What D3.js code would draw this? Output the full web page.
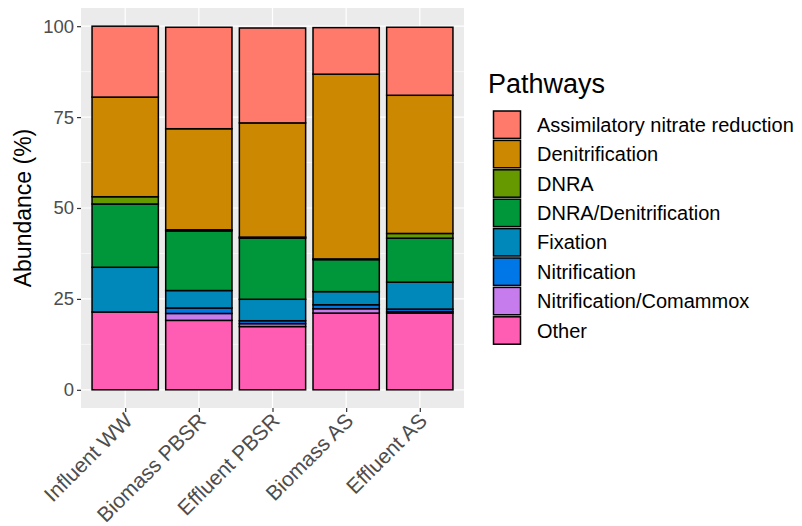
<!DOCTYPE html>
<html>
<head>
<meta charset="utf-8">
<script src="https://cdn.jsdelivr.net/npm/d3@7/dist/d3.min.js"></script>
<style>
  html, body { margin: 0; padding: 0; background: #fff; }
  svg text { font-family: "Liberation Sans", Arial, sans-serif; }
</style>
</head>
<body>
<svg id="chart" width="802" height="526"></svg>
<script>
const samples = ["Influent WW", "Biomass PBSR", "Effluent PBSR", "Biomass AS", "Effluent AS"];
const pathways = ["Assimilatory nitrate reduction", "Denitrification", "DNRA", "DNRA/Denitrification",
  "Fixation", "Nitrification", "Nitrification/Comammox", "Other"];
const colors = ["#FF7A6B", "#CC8800", "#669900", "#00963A", "#0088BB", "#0077E6", "#C77CEE", "#FF5CB4"];
// values per pathway, in sample order
const assimilatory = [19.5, 27.9, 26.1, 12.8, 18.7];
const denitrification = [27.4, 27.8, 31.4, 50.8, 38.0];
const dnra = [2.0, 0.3, 0.3, 0.2, 1.3];
const dnraDenit = [17.4, 16.4, 16.8, 8.8, 12.1];
const fixation = [12.3, 4.8, 5.9, 3.6, 7.4];
const nitrification = [0.0, 1.5, 0.8, 1.1, 0.7];
const comammox = [0.0, 1.9, 0.8, 1.2, 0.4];
const other = [21.4, 19.1, 17.4, 21.1, 21.1];
const yTicks = [0, 25, 50, 75, 100];

const seriesVals = [assimilatory, denitrification, dnra, dnraDenit, fixation, nitrification, comammox, other];
const table = samples.map((s, i) => {
  const row = { sample: s };
  pathways.forEach((p, j) => row[p] = seriesVals[j][i]);
  return row;
});
// stack bottom-up: Other first, ANR last (top)
const stackKeys = pathways.slice().reverse();
const stacked = d3.stack().keys(stackKeys)(table);
const color = d3.scaleOrdinal().domain(pathways).range(colors);

const svg = d3.select("#chart");
const panel = { left: 81, right: 464, top: 8, bottom: 408 };

// ggplot: expansion 0.6 on each side of discrete axis; bar width 0.9
const step = (panel.right - panel.left) / (samples.length - 1 + 1.2);
const xc = d3.scalePoint().domain(samples).range([panel.left + 0.6 * step, panel.right - 0.6 * step]);
const barW = 0.9 * step;
const y = d3.scaleLinear().domain([-5, 105]).range([panel.bottom, panel.top]);

// panel background
svg.append("rect").attr("x", panel.left).attr("y", panel.top)
  .attr("width", panel.right - panel.left).attr("height", panel.bottom - panel.top)
  .attr("fill", "#EBEBEB");
// minor grid
const minor = [12.5, 37.5, 62.5, 87.5];
svg.append("g").selectAll("line").data(minor).join("line")
  .attr("x1", panel.left).attr("x2", panel.right)
  .attr("y1", d => y(d)).attr("y2", d => y(d))
  .attr("stroke", "#fff").attr("stroke-width", 0.6);
// major grid
svg.append("g").selectAll("line").data(yTicks).join("line")
  .attr("x1", panel.left).attr("x2", panel.right)
  .attr("y1", d => y(d)).attr("y2", d => y(d))
  .attr("stroke", "#fff").attr("stroke-width", 1.2);
svg.append("g").selectAll("line").data(samples).join("line")
  .attr("x1", d => xc(d)).attr("x2", d => xc(d))
  .attr("y1", panel.top).attr("y2", panel.bottom)
  .attr("stroke", "#fff").attr("stroke-width", 1.2);

// bars
svg.append("g").selectAll("g").data(stacked).join("g")
  .attr("fill", d => color(d.key))
  .selectAll("rect").data(d => d).join("rect")
  .attr("x", d => xc(d.data.sample) - barW / 2)
  .attr("width", barW)
  .attr("y", d => y(d[1]))
  .attr("height", d => Math.max(0, y(d[0]) - y(d[1])))
  .attr("stroke", "#000").attr("stroke-width", 1.5);

// y axis
const yAxis = d3.axisLeft(y).tickValues(yTicks).tickSize(4).tickPadding(3);
const yg = svg.append("g").attr("transform", `translate(${panel.left},0)`).call(yAxis);
yg.select(".domain").remove();
yg.selectAll(".tick line").attr("stroke", "#333").attr("stroke-width", 1.2);
yg.selectAll(".tick text").attr("fill", "#4D4D4D").style("font-size", "18.5px")
  .attr("font-family", "Liberation Sans, Arial, sans-serif");

// x axis
const xAxis = d3.axisBottom(xc).tickSize(4).tickPadding(3);
const xg = svg.append("g").attr("transform", `translate(0,${panel.bottom})`).call(xAxis);
xg.select(".domain").remove();
xg.selectAll(".tick line").attr("stroke", "#333").attr("stroke-width", 1.2);
xg.selectAll(".tick text").attr("fill", "#4D4D4D").style("font-size", "21px")
  .attr("font-family", "Liberation Sans, Arial, sans-serif")
  .attr("text-anchor", "end")
  .attr("dy", null).attr("y", 0)
  .attr("transform", "translate(8,14) rotate(-45)");

// y title
svg.append("text")
  .attr("transform", `translate(31,${(panel.top + panel.bottom) / 2}) rotate(-90)`)
  .attr("text-anchor", "middle")
  .style("font-size", "23px").attr("fill", "#000")
  .text("Abundance (%)");

// legend
const lg = svg.append("g").attr("transform", "translate(488,0)");
lg.append("text").attr("x", 0).attr("y", 93).style("font-size", "27px").attr("fill", "#000").text("Pathways");
const keyH = 29.4, keyTop = 110;
const items = lg.selectAll("g.item").data(pathways).join("g").attr("class", "item")
  .attr("transform", (d, i) => `translate(0,${keyTop + i * keyH})`);
items.append("rect").attr("x", 5).attr("y", 0.5).attr("width", 28).attr("height", keyH - 1)
  .attr("fill", "#fff");
items.append("rect").attr("x", 5.5).attr("y", 1).attr("width", 27).attr("height", keyH - 2)
  .attr("fill", d => color(d)).attr("stroke", "#000").attr("stroke-width", 1.5);
items.append("text").attr("x", 49).attr("y", keyH / 2).attr("dy", "0.36em")
  .style("font-size", "20px").attr("fill", "#000").text(d => d);
</script>
</body>
</html>
